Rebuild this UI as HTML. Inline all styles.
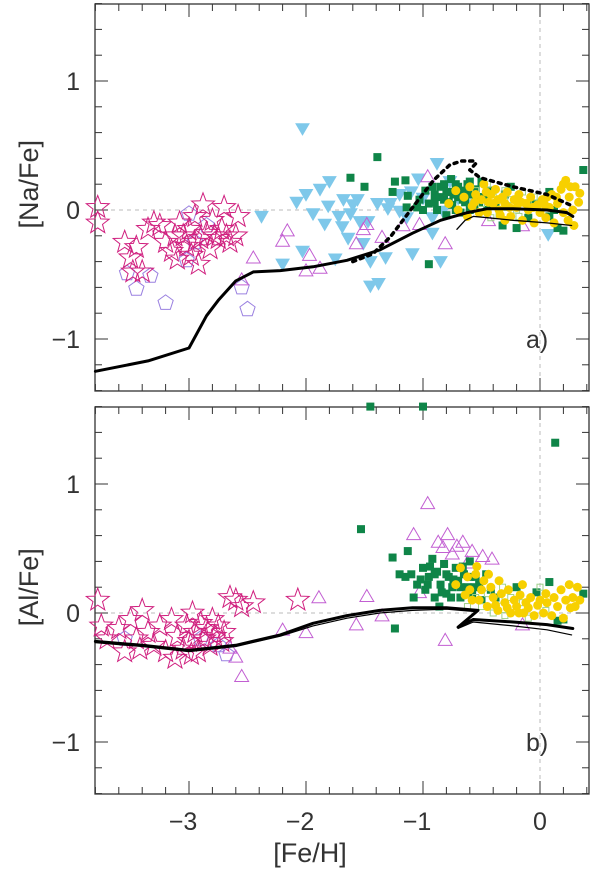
<!DOCTYPE html>
<html><head><meta charset="utf-8"><style>
html,body{margin:0;padding:0;background:#fff;}
svg{display:block;font-family:"Liberation Sans",sans-serif;}
</style></head><body>
<svg id="chart" width="600" height="869" viewBox="0 0 600 869" xmlns="http://www.w3.org/2000/svg"></svg>
<script>
// ---------- data ----------
const xTicks=[-3,-2,-1,0];
const yTicks=[-1,0,1];
// top panel [Na/Fe]
const naStars=[[-3.78,0.02],[-3.78,-0.1],[-3.55,-0.25],[-3.5,-0.37],[-3.45,-0.29],[-3.4,-0.48],[-3.35,-0.15],[-3.3,-0.1],[-3.25,-0.12],[-3.2,-0.25],[-3.15,-0.32],[-3.1,-0.38],[-3.05,-0.2],[-3.02,-0.28],[-3.0,-0.15],[-2.98,-0.35],[-2.95,-0.05],[-2.9,-0.22],[-2.88,0.04],[-2.85,-0.18],[-2.82,-0.3],[-2.8,-0.08],[-2.78,-0.2],[-2.75,-0.22],[-2.7,0.02],[-2.68,-0.2],[-2.65,-0.25],[-2.6,-0.2],[-2.58,-0.05],[-2.95,-0.25],[-3.08,-0.1],[-2.92,-0.42],[-3.48,-0.48],[-3.12,-0.2],[-2.72,-0.15]];
const naPent=[[-3.53,-0.49],[-3.45,-0.61],[-3.33,-0.51],[-3.2,-0.72],[-3.0,-0.03],[-3.02,-0.39],[-2.95,-0.25],[-2.55,-0.6],[-2.5,-0.77],[-2.85,-0.12]];
const naTri=[[-2.16,-0.17],[-2.2,-0.25],[-1.97,-0.36],[-2.0,-0.48],[-1.88,-0.46],[-1.57,-0.27],[-1.51,-0.16],[-1.48,-0.12],[-1.35,-0.22],[-1.17,-0.13],[-1.03,-0.12],[-0.96,0.25],[-0.81,-0.27],[-0.44,-0.09],[-0.15,-0.13],[-2.45,-0.38],[-2.55,-0.55]];
const naBlue=[[-2.03,0.64],[-1.8,0.23],[-2.0,0.13],[-2.08,0.07],[-1.88,0.17],[-1.68,0.09],[-1.56,0.09],[-1.62,-0.02],[-1.94,-0.02],[-1.81,0.04],[-1.39,0.06],[-1.28,0.06],[-1.2,0.13],[-1.04,0.25],[-0.88,0.37],[-0.77,0.23],[-1.84,-0.1],[-1.69,-0.12],[-1.54,-0.08],[-1.47,-0.08],[-1.64,-0.21],[-1.51,-0.25],[-2.03,-0.31],[-1.75,-0.37],[-1.45,-0.39],[-1.32,-0.36],[-1.09,-0.33],[-0.92,-0.17],[-0.85,-0.39],[-1.45,-0.58],[-1.38,-0.56],[-2.2,-0.41],[0.07,-0.18],[-1.2,0.0],[-1.14,-0.05],[-0.92,-0.05],[-0.83,0.0],[-2.38,-0.04],[-1.0,0.1],[-0.7,0.1],[-0.6,0.05],[-1.1,0.15],[-1.3,0.02],[-1.6,0.05],[-1.72,-0.04]];
const naGreen=[[-1.39,0.41],[-1.62,0.25],[-1.5,0.18],[-1.24,0.22],[-1.15,0.23],[-1.26,0.14],[-0.95,-0.42],[-1.13,0.11],[-1.14,0.02],[-1.03,0.08],[-0.32,-0.12],[-0.2,-0.14],[0.08,0.14],[0.15,-0.14],[0.2,-0.16],[0.37,0.31],[0.08,-0.05],[-0.95,0.05],[-0.9,0.12],[-0.88,0.0],[-0.85,0.18],[-0.82,0.08],[-0.8,-0.04],[-0.78,0.14],[-0.75,0.04],[-0.72,0.2],[-0.7,0.1],[-0.68,-0.02],[-0.66,0.15],[-0.64,0.06],[-0.62,0.2],[-0.6,0.0],[-0.58,0.12],[-0.55,0.16],[-0.52,0.06],[-0.5,0.22],[-0.48,0.1],[-0.45,0.0],[-0.42,0.15],[-0.38,0.05],[-0.92,0.18],[-0.76,0.24],[-1.0,0.0],[-0.98,0.15],[-0.3,0.12],[-0.1,-0.06],[-0.25,0.18],[-0.86,0.1],[-0.82,0.2],[-0.78,0.06],[-0.74,0.12],[-0.7,0.18],[-0.66,0.08],[-0.62,0.12],[-0.6,0.22],[-0.56,0.04],[-0.54,0.1],[-0.8,0.14],[-0.72,0.0],[-0.9,0.06],[-1.05,0.02],[-0.05,0.05],[0.12,0.0]];
const naYellow=[[-0.78,0.05],[-0.72,0.15],[-0.7,0.0],[-0.65,0.1],[-0.6,0.18],[-0.58,0.03],[-0.55,0.12],[-0.5,0.08],[-0.48,0.2],[-0.45,-0.02],[-0.42,0.12],[-0.4,0.05],[-0.38,0.16],[-0.35,0.0],[-0.32,0.1],[-0.3,0.05],[-0.28,0.14],[-0.25,-0.05],[-0.22,0.08],[-0.2,0.02],[-0.18,0.12],[-0.15,-0.08],[-0.12,0.05],[-0.1,0.0],[-0.08,0.1],[-0.05,-0.1],[-0.02,0.04],[0.0,-0.02],[0.02,0.08],[0.05,-0.06],[0.08,0.02],[0.1,0.12],[0.12,-0.1],[0.15,0.05],[0.18,0.16],[0.2,-0.02],[0.22,0.23],[0.25,0.1],[0.28,0.0],[0.3,0.18],[0.34,0.13],[0.33,0.06],[0.26,0.18],[0.2,0.2],[-0.62,-0.05],[-0.52,-0.02],[-0.3,-0.08],[0.06,0.1],[0.24,-0.08],[0.29,-0.12],[-0.56,0.06],[-0.46,0.14],[-0.36,0.08],[-0.26,0.02],[-0.16,0.06],[-0.06,0.02],[0.04,0.04],[0.14,0.1],[-0.44,0.06],[-0.34,-0.04]];
const naLight=[[-0.55,0.15],[-0.5,0.05],[-0.45,0.2],[-0.4,0.1],[-0.35,-0.04],[-0.3,0.15],[-0.25,0.08],[-0.2,0.0],[-0.15,0.14],[-0.1,0.05],[-0.05,0.1],[0.0,0.03],[-0.42,-0.06],[-0.28,0.02],[-0.18,-0.05]];
const naLineX=[-3.8,-3.35,-3.0,-2.85,-2.75,-2.6,-2.45,-2.22,-1.94,-1.65,-1.37,-1.09,-0.85,-0.62,-0.45,-0.23,0.06,0.23,0.28];
const naLineY=[-1.25,-1.17,-1.07,-0.82,-0.7,-0.55,-0.48,-0.47,-0.44,-0.39,-0.31,-0.18,-0.08,-0.02,0.01,0.01,0.0,-0.02,-0.05];
const naThinX=[-0.71,-0.64,-0.57,-0.45,-0.23,0.06,0.27];
const naThinY=[-0.15,-0.08,-0.05,-0.06,-0.08,-0.1,-0.12];
const naDotX=[-1.6,-1.43,-1.28,-1.08,-0.91,-0.77,-0.67,-0.56,-0.55,-0.6,-0.51,-0.23,0.06,0.28];
const naDotY=[-0.4,-0.34,-0.21,0.03,0.23,0.35,0.38,0.38,0.36,0.31,0.25,0.18,0.12,0.03];
// bottom panel [Al/Fe]
const alStars=[[-3.78,0.1],[-3.75,-0.1],[-3.7,-0.2],[-3.6,-0.12],[-3.55,-0.3],[-3.5,-0.05],[-3.45,-0.2],[-3.4,0.02],[-3.35,-0.15],[-3.3,-0.25],[-3.25,-0.1],[-3.2,-0.3],[-3.15,-0.05],[-3.1,-0.18],[-3.05,-0.28],[-3.02,-0.1],[-3.0,-0.22],[-2.97,0.0],[-2.95,-0.15],[-2.92,-0.3],[-2.9,-0.08],[-2.87,-0.2],[-2.85,-0.12],[-2.82,-0.25],[-2.8,-0.05],[-2.78,-0.18],[-2.75,-0.1],[-2.72,-0.22],[-2.7,-0.15],[-2.6,0.1],[-2.55,0.05],[-2.45,0.08],[-2.07,0.1],[-3.12,-0.35],[-2.98,-0.32],[-3.42,-0.28],[-2.65,0.12]];
const alPent=[[-2.75,-0.25],[-2.68,-0.32],[-3.55,-0.2],[-2.9,-0.2]];
const alTri=[[-0.96,0.84],[-1.08,0.6],[-0.79,0.6],[-0.87,0.54],[-0.83,0.5],[-0.71,0.51],[-0.66,0.54],[-0.58,0.47],[-0.49,0.43],[-0.41,0.41],[-1.03,0.15],[-1.89,0.11],[-1.48,0.12],[-1.35,-0.03],[-1.57,-0.1],[-2.0,-0.16],[-2.2,-0.14],[-0.81,-0.22],[-0.15,-0.1],[-2.6,-0.35],[-2.55,-0.5],[-2.65,-0.28],[-0.62,0.38],[-0.75,0.45]];
const alGreen=[[-1.45,1.6],[-1.0,1.6],[0.13,1.32],[-1.53,0.65],[-1.26,0.43],[-1.13,0.48],[-1.24,-0.12],[-0.03,0.16],[0.37,0.15],[0.08,0.24],[0.2,-0.05],[0.15,-0.06],[-1.1,0.3],[-1.05,0.22],[-1.0,0.35],[-0.98,0.18],[-0.95,0.28],[-0.92,0.42],[-0.9,0.12],[-0.88,0.32],[-0.85,0.22],[-0.82,0.38],[-0.8,0.15],[-0.78,0.28],[-0.75,0.2],[-0.72,0.35],[-0.7,0.25],[-0.68,0.12],[-0.65,0.3],[-0.62,0.2],[-0.6,0.4],[-0.58,0.15],[-0.55,0.28],[-0.52,0.22],[-0.5,0.1],[-0.46,0.3],[-0.42,0.18],[-0.38,0.12],[-1.15,0.28],[-1.2,0.3],[-0.2,0.2],[-1.08,0.12],[-0.86,0.05],[-0.96,0.22],[-0.9,0.3],[-0.84,0.16],[-0.8,0.3],[-0.76,0.12],[-0.74,0.26],[-0.68,0.2],[-0.66,0.36],[-0.6,0.28],[-0.56,0.2],[-1.02,0.26],[-0.94,0.36]];
const alYellow=[[-0.72,0.22],[-0.68,0.35],[-0.62,0.28],[-0.58,0.1],[-0.55,0.3],[-0.5,0.18],[-0.48,0.25],[-0.45,0.05],[-0.42,0.2],[-0.4,0.12],[-0.36,0.02],[-0.33,0.15],[-0.3,0.08],[-0.27,0.18],[-0.25,0.0],[-0.22,0.1],[-0.2,0.05],[-0.17,0.14],[-0.14,0.0],[-0.12,0.08],[-0.08,0.12],[-0.05,-0.02],[-0.02,0.06],[0.0,0.1],[0.03,0.0],[0.06,0.08],[0.1,-0.02],[0.12,0.12],[0.15,0.05],[0.18,0.18],[0.22,0.1],[0.25,0.22],[0.28,0.12],[0.32,0.2],[0.3,0.05],[0.2,-0.04],[-0.35,0.25],[-0.6,0.18],[-0.15,0.22],[0.05,0.15],[-0.52,0.1],[-0.44,0.3],[-0.38,0.06],[-0.28,0.04],[-0.18,0.0],[-0.1,0.04],[0.34,0.1],[0.26,0.04],[-0.64,0.14],[-0.54,0.36]];
const alLight=[[-0.55,0.12],[-0.5,0.05],[-0.45,0.15],[-0.4,0.0],[-0.35,0.1],[-0.3,-0.02],[-0.25,0.12],[-0.2,0.02],[-0.15,0.08],[-0.1,-0.04],[0.0,0.2],[0.05,0.02],[-0.62,0.05],[-0.32,0.2]];
const alLineX=[-3.8,-3.4,-3.0,-2.6,-2.22,-1.94,-1.65,-1.37,-1.09,-0.8,-0.53,-0.7,-0.57,-0.23,0.06,0.28];
const alLineY=[-0.22,-0.25,-0.29,-0.25,-0.17,-0.08,-0.02,0.02,0.04,0.04,0.02,-0.11,-0.05,-0.07,-0.09,-0.12];
const alThinX=[-3.8,-3.4,-3.0,-2.6,-2.22,-1.94,-1.65,-1.37,-1.09,-0.8,-0.55,-0.7,-0.57,-0.23,0.06,0.27];
const alThinY=[-0.23,-0.26,-0.3,-0.26,-0.18,-0.1,-0.04,0.0,0.02,0.03,0.01,-0.12,-0.07,-0.1,-0.13,-0.17];

// ---------- drawing ----------
const NS='http://www.w3.org/2000/svg';
const svg=document.getElementById('chart');
const L=95,R=589;
const X=v=>189+117*(v+3);
function mk(tag,attrs,parent){const e=document.createElementNS(NS,tag);for(const k in attrs)e.setAttribute(k,attrs[k]);(parent||svg).appendChild(e);return e;}

function panel(top,name){
  const bot=top+387, y0=top+206;
  const Y=v=>y0-129*v;
  const g=mk('g',{});
  
  
  return {g,Y,top,bot};
}
function axes(p,ylabel,tag,showX){
  const g=p.g;
  mk('line',{x1:L,x2:R,y1:p.Y(0),y2:p.Y(0),stroke:'#bbb','stroke-width':1,'stroke-dasharray':'4,4'},g);
  mk('line',{x1:X(0),x2:X(0),y1:p.top,y2:p.bot,stroke:'#bbb','stroke-width':1,'stroke-dasharray':'4,4'},g);
  for(let i=-38;i<=4;i+=2){const x=X(i/10);const maj=i%10===0;const len=maj?13:7;
    mk('line',{x1:x,x2:x,y1:p.bot,y2:p.bot-len,stroke:'#333','stroke-width':1},g);
    mk('line',{x1:x,x2:x,y1:p.top,y2:p.top+len,stroke:'#333','stroke-width':1},g);}
  for(let i=-14;i<=16;i+=2){const y=p.Y(i/10);const maj=i%10===0;const len=maj?13:7;
    mk('line',{x1:L,x2:L+len,y1:y,y2:y,stroke:'#333','stroke-width':1},g);
    mk('line',{x1:R,x2:R-len,y1:y,y2:y,stroke:'#333','stroke-width':1},g);}
  mk('rect',{x:L,y:p.top,width:R-L,height:p.bot-p.top,fill:'none',stroke:'#333','stroke-width':1.3},g);
  yTicks.forEach(t=>{const e=mk('text',{x:80,y:p.Y(t)+9,'text-anchor':'end','font-size':25,fill:'#333'},g);e.textContent=t<0?'\u2212'+Math.abs(t):t;});
  const yl=mk('text',{x:0,y:0,'text-anchor':'middle','font-size':27,fill:'#333',transform:`translate(38,${p.Y(0.2)}) rotate(-90)`},g);
  yl.textContent=ylabel;
  const pl=mk('text',{x:526,y:p.Y(-1.0)+9,'font-size':25,fill:'#333'},g);pl.textContent=tag;
  
  if(showX){
    xTicks.forEach(t=>{const e=mk('text',{x:X(t)-(t<0?6:0),y:830,'text-anchor':'middle','font-size':25,fill:'#333'},g);e.textContent=t<0?'\u2212'+Math.abs(t):t;});
    const xl=mk('text',{x:X(-2)+4,y:862,'text-anchor':'middle','font-size':27,fill:'#333'},g);xl.textContent='[Fe/H]';
    
  }
}
function poly(cx,cy,n,r,rot,inner){let pts=[];const m=inner?2*n:n;for(let i=0;i<m;i++){const a=rot+i*Math.PI*2/m;const rr=inner&&i%2?inner:r;pts.push((cx+rr*Math.sin(a)).toFixed(1)+','+(cy-rr*Math.cos(a)).toFixed(1));}return pts.join(' ');}
function scatter(p,data,kind,name){
  const g=mk('g',{},p.g);
  data.forEach(d=>{const x=X(d[0]),y=p.Y(d[1]);let e;
    if(kind==='star')e=mk('polygon',{points:poly(x,y,5,12,0,5),fill:'none',stroke:'#d0207f','stroke-width':1},g);
    else if(kind==='pent')e=mk('polygon',{points:poly(x,y,5,8,0),fill:'none',stroke:'#9a80e0','stroke-width':1},g);
    else if(kind==='tri')e=mk('polygon',{points:poly(x,y,3,8,0),fill:'none',stroke:'#c25fd2','stroke-width':1},g);
    else if(kind==='blue')e=mk('polygon',{points:poly(x,y,3,8.5,Math.PI),fill:'#7ec8ea'},g);
    else if(kind==='green')e=mk('rect',{x:x-4,y:y-4,width:8,height:8,fill:'#0f8548'},g);
    else if(kind==='yellow')e=mk('circle',{cx:x,cy:y,r:4.5,fill:'#f7d000'},g);
    else if(kind==='light')e=mk('rect',{x:x-3,y:y-3,width:6,height:6,fill:'none',stroke:'#9fd08a','stroke-width':1},g);
    });
}
function line(p,xs,ys,w,dash,name){
  const d=xs.map((v,i)=>(i?'L':'M')+X(v).toFixed(1)+','+p.Y(ys[i]).toFixed(1)).join(' ');
  const a={d,fill:'none',stroke:'#000','stroke-width':w,'stroke-linejoin':'round','stroke-linecap':'round'};if(dash)a['stroke-dasharray']=dash;
  const e=mk('path',a,p.g);
}
const pa=panel(4,'panel-na-fe');
axes(pa,'[Na/Fe]','a)',false);
scatter(pa,naPent,'pent','halo-pentagons');
scatter(pa,naStars,'star','halo-stars');
scatter(pa,naBlue,'blue','thick-disk-triangles');
scatter(pa,naTri,'tri','open-triangles');
scatter(pa,naGreen,'green','green-squares');
scatter(pa,naLight,'light','light-green-squares');
scatter(pa,naYellow,'yellow','yellow-circles');
line(pa,naLineX,naLineY,3,null,'model-thick');
line(pa,naThinX,naThinY,1.3,null,'model-thin');
line(pa,naDotX,naDotY,3.5,'3,5','model-dotted');

const pb=panel(407,'panel-al-fe');
axes(pb,'[Al/Fe]','b)',true);
scatter(pb,alPent,'pent','halo-pentagons');
scatter(pb,alStars,'star','halo-stars');
scatter(pb,alTri,'tri','open-triangles');
scatter(pb,alGreen,'green','green-squares');
scatter(pb,alLight,'light','light-green-squares');
scatter(pb,alYellow,'yellow','yellow-circles');
line(pb,alLineX,alLineY,3,null,'model-thick');
line(pb,alThinX,alThinY,1.2,null,'model-thin');
</script>
</body></html>
